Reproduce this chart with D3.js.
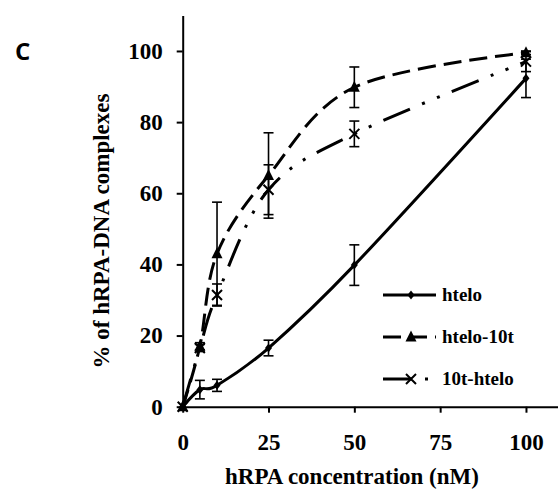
<!DOCTYPE html>
<html>
<head>
<meta charset="utf-8">
<script src="https://cdn.jsdelivr.net/npm/d3@7"></script>
<style>
  body { margin: 0; background: #fff; }
  svg { display: block; }
  text { font-family: "Liberation Serif", "Times New Roman", serif; font-weight: bold; fill: #000; }
</style>
</head>
<body>
<svg id="chart"></svg>
<script>
// data
const conc = [0, 5, 10, 25, 50, 100];
const htelo = [0, 4.8, 6, 16.5, 39.8, 92.3];
const hteloErr = [0, 2.6, 1.7, 2.2, 5.7, 5.4];
const htelo10t = [0, 17, 43, 65, 89.8, 99.5];
const htelo10tErr = [0, 1, 14.5, 12, 5.7, 0.5];
const t10htelo = [0, 16.5, 31.4, 61, 76.7, 97];
const t10hteloErr = [0, 1, 3.1, 7, 3.6, 2.8];
const xTicks = [0, 25, 50, 75, 100];
const yTicks = [0, 20, 40, 60, 80, 100];
const seriesNames = ["htelo", "htelo-10t", "10t-htelo"];

const width = 558, height = 494;
const svg = d3.select("#chart").attr("width", width).attr("height", height);

const x = d3.scaleLinear().domain([0, 110]).range([182.7, 560.3]);
const y = d3.scaleLinear().domain([0, 110]).range([406.7, 15.4]);

const series = [
  { name: seriesNames[0], vals: htelo, err: hteloErr, dash: null, marker: "diamond" },
  { name: seriesNames[1], vals: htelo10t, err: htelo10tErr, dash: "18,8", marker: "triangle" },
  { name: seriesNames[2], vals: t10htelo, err: t10hteloErr, dash: "29,13,3,13,3,13", marker: "x" }
];

// axes
const xAxis = svg.append("g")
  .attr("transform", `translate(0,${y(0)})`)
  .call(d3.axisBottom(x).tickValues(xTicks).tickSizeInner(6).tickSizeOuter(0).tickPadding(21));
const yAxis = svg.append("g")
  .attr("transform", `translate(${x(0)},0)`)
  .call(d3.axisLeft(y).tickValues(yTicks).tickSizeInner(6).tickSizeOuter(0).tickPadding(14));

[xAxis, yAxis].forEach(a => {
  a.select(".domain").attr("stroke", "#000").attr("stroke-width", 2);
  a.selectAll(".tick line").attr("stroke", "#000").attr("stroke-width", 2);
  a.selectAll(".tick text").style("font-size", "23px").attr("fill", "#000");
  a.attr("font-family", null).attr("font-size", null);
});

// axis titles
svg.append("text")
  .attr("x", 352).attr("y", 484)
  .attr("text-anchor", "middle")
  .style("font-size", "23px")
  .text("hRPA concentration (nM)");

svg.append("text")
  .attr("transform", "translate(109,231) rotate(-90)")
  .attr("text-anchor", "middle")
  .style("font-size", "23px")
  .text("% of hRPA-DNA complexes");

svg.append("text")
  .attr("x", 15).attr("y", 60)
  .style("font-family", "'Open Sans', 'Liberation Sans', sans-serif")
  .style("font-size", "24px")
  .text("C");

// markers
function drawMarker(sel, type, cx, cy) {
  if (type === "diamond") {
    sel.append("path")
      .attr("d", `M${cx},${cy - 4.5}L${cx + 3.5},${cy}L${cx},${cy + 4.5}L${cx - 3.5},${cy}Z`)
      .attr("fill", "#000");
  } else if (type === "triangle") {
    sel.append("path")
      .attr("d", `M${cx},${cy - 6.5}L${cx + 5.5},${cy + 4.5}L${cx - 5.5},${cy + 4.5}Z`)
      .attr("fill", "#000");
  } else {
    sel.append("path")
      .attr("d", `M${cx - 5},${cy - 5}L${cx + 5},${cy + 5}M${cx + 5},${cy - 5}L${cx - 5},${cy + 5}`)
      .attr("stroke", "#000").attr("stroke-width", 2).attr("fill", "none");
  }
}

const line = d3.line()
  .x(d => x(d[0]))
  .y(d => y(d[1]))
  .curve(d3.curveCardinal.tension(0));

const plot = svg.append("g");

series.forEach(s => {
  const pts = conc.map((c, i) => [c, s.vals[i]]);
  plot.append("path")
    .datum(pts)
    .attr("d", line)
    .attr("fill", "none")
    .attr("stroke", "#000")
    .attr("stroke-width", 3)
    .attr("stroke-dasharray", s.dash);

  // error bars
  const eb = plot.append("g").attr("stroke", "#000").attr("stroke-width", 1.6);
  conc.forEach((c, i) => {
    if (!s.err[i]) return;
    const cx = x(c), y1 = y(s.vals[i] + s.err[i]), y2 = y(s.vals[i] - s.err[i]);
    eb.append("line").attr("x1", cx).attr("x2", cx).attr("y1", y1).attr("y2", y2);
    eb.append("line").attr("x1", cx - 5).attr("x2", cx + 5).attr("y1", y1).attr("y2", y1);
    eb.append("line").attr("x1", cx - 5).attr("x2", cx + 5).attr("y1", y2).attr("y2", y2);
  });

  const mk = plot.append("g");
  pts.forEach(p => drawMarker(mk, s.marker, x(p[0]), y(p[1])));
});

// legend
const legendY = [295, 337, 379];
const legend = svg.append("g");
series.forEach((s, i) => {
  const ly = legendY[i];
  legend.append("line")
    .attr("x1", 383).attr("x2", 436)
    .attr("y1", ly).attr("y2", ly)
    .attr("stroke", "#000").attr("stroke-width", 3)
    .attr("stroke-dasharray", s.dash);
  drawMarker(legend, s.marker, 411, ly);
  legend.append("text")
    .attr("x", 442).attr("y", ly)
    .attr("dy", "0.33em")
    .style("font-size", "19px")
    .text(s.name);
});
</script>
</body>
</html>
